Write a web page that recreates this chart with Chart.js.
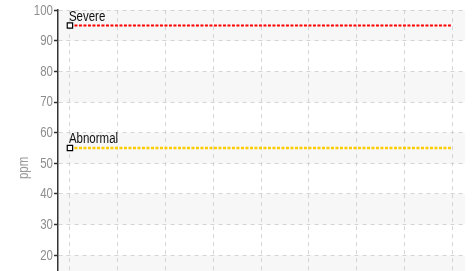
<!DOCTYPE html>
<html>
<head>
<meta charset="utf-8">
<script src="https://cdn.jsdelivr.net/npm/chart.js@4"></script>
<style>
  html, body { margin: 0; padding: 0; background: #fff; overflow: hidden; }
  #wrap { width: 476px; height: 330px; position: relative; }
</style>
</head>
<body>
<div id="wrap"><canvas id="chart"></canvas></div>
<script>
// data
const categories = [0, 1, 2, 3, 4, 5, 6, 7, 8];
const severeValues = [95, 95, 95, 95, 95, 95, 95, 95, 95];
const abnormalValues = [55, 55, 55, 55, 55, 55, 55, 55, 55];
const seriesNames = ['Severe', 'Abnormal'];
const yTicks = [0, 10, 20, 30, 40, 50, 60, 70, 80, 90, 100];
const yTitle = 'ppm';

const fontFamily = '"Liberation Sans", Arial, sans-serif';
const squeeze = 0.82; // the original uses a narrow face

function points(values) {
  return categories.map((c, i) => ({ x: c, y: values[i] }));
}

function firstOnly(r) {
  return categories.map((c, i) => i === 0 ? r : 0);
}

function narrowText(ctx, text, x, y, rot) {
  ctx.save();
  ctx.translate(x, y);
  if (rot) ctx.rotate(rot);
  ctx.scale(squeeze, 1);
  ctx.fillText(text, 0, 0);
  ctx.restore();
}

// grey bands behind the plot
const bands = {
  id: 'bands',
  beforeDraw(chart) {
    const { ctx, chartArea } = chart;
    const y = chart.scales.y;
    ctx.save();
    ctx.fillStyle = '#f7f7f7';
    for (let v = 10; v < 100; v += 20) {
      const top = y.getPixelForValue(v + 10);
      const bottom = y.getPixelForValue(v);
      ctx.fillRect(chartArea.left, top, chartArea.right - chartArea.left, bottom - top);
    }
    ctx.restore();
  }
};

// narrow text: y tick labels, axis title, names above the lines
const texts = {
  id: 'texts',
  afterDraw(chart) {
    const { ctx, chartArea } = chart;
    const y = chart.scales.y;
    ctx.save();

    ctx.font = '14px ' + fontFamily;
    ctx.fillStyle = '#8e8e8e';
    ctx.textAlign = 'right';
    ctx.textBaseline = 'middle';
    y.ticks.forEach(t => narrowText(ctx, String(t.value), chartArea.left - 5, y.getPixelForValue(t.value) + 0.5));

    ctx.fillStyle = '#999';
    ctx.textAlign = 'center';
    narrowText(ctx, yTitle, 24, y.getPixelForValue(48.5), -Math.PI / 2);

    ctx.fillStyle = '#111';
    ctx.textAlign = 'left';
    ctx.textBaseline = 'alphabetic';
    chart.data.datasets.forEach((ds, i) => {
      const p = chart.getDatasetMeta(i).data[0];
      narrowText(ctx, ds.label, p.x - 1, p.y - 5);
    });
    ctx.restore();
  }
};

new Chart(document.getElementById('chart'), {
  type: 'line',
  data: {
    datasets: [{
      label: seriesNames[0],
      data: points(severeValues),
      borderColor: '#ff0000',
      borderWidth: 2,
      borderDash: [3, 1.5],
      pointStyle: 'rect',
      pointRadius: firstOnly(3.8),
      pointBackgroundColor: '#fff',
      pointBorderColor: '#000',
      pointBorderWidth: 1.2
    }, {
      label: seriesNames[1],
      data: points(abnormalValues),
      borderColor: '#ffcc00',
      borderWidth: 2.5,
      borderDash: [3, 1.5],
      pointStyle: 'rect',
      pointRadius: firstOnly(3.8),
      pointBackgroundColor: '#fff',
      pointBorderColor: '#000',
      pointBorderWidth: 1.2
    }]
  },
  options: {
    responsive: true,
    maintainAspectRatio: false,
    animation: false,
    layout: { padding: { top: 2, right: 11, bottom: 13.5, left: 0 } },
    plugins: {
      legend: { display: false },
      tooltip: { enabled: false }
    },
    scales: {
      x: {
        type: 'linear',
        min: -0.25,
        max: 8.27,
        afterBuildTicks: scale => { scale.ticks = categories.map(v => ({ value: v })); },
        ticks: { display: false },
        grid: { color: '#d4d4d4', drawTicks: false, lineWidth: 1 },
        border: { display: false, dash: [4, 4] }
      },
      y: {
        min: 0,
        max: 100,
        afterBuildTicks: scale => { scale.ticks = yTicks.map(v => ({ value: v })); },
        afterFit: scale => { scale.width = 58; },
        ticks: {
          color: 'rgba(0,0,0,0)',
          font: { family: fontFamily, size: 12 },
          padding: 3
        },
        title: { display: false },
        grid: {
          color: '#d4d4d4',
          tickColor: '#333',
          tickLength: 4,
          tickWidth: 1.5,
          tickBorderDash: []
        },
        border: { display: true, color: '#333', width: 1.5, dash: [4, 4] }
      }
    }
  },
  plugins: [bands, texts]
});
</script>
</body>
</html>
